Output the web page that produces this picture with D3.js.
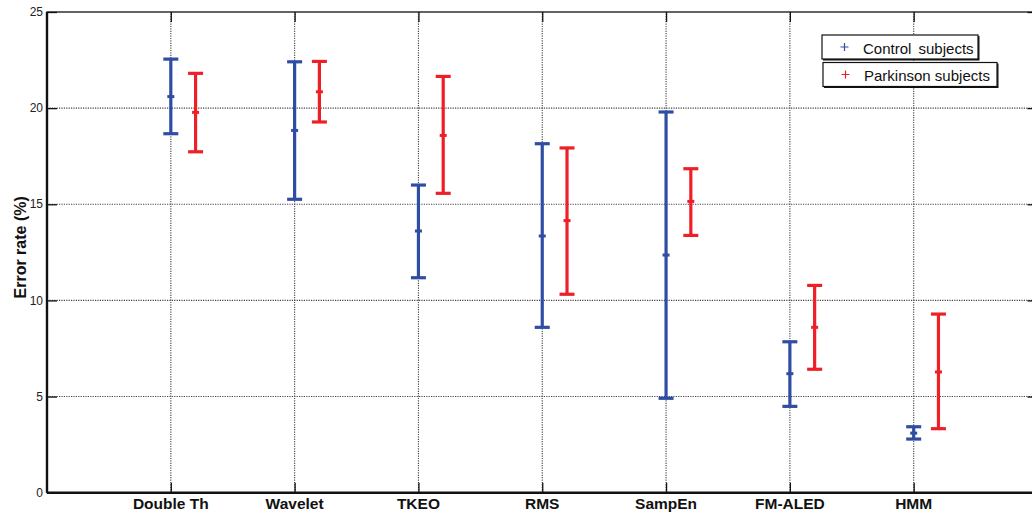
<!DOCTYPE html>
<html><head><meta charset="utf-8">
<script src="https://cdn.jsdelivr.net/npm/d3@7"></script>
<style>body{margin:0;background:#fff}svg{display:block}</style>
</head><body>
<script>
const categories = ["Double Th","Wavelet","TKEO","RMS","SampEn","FM-ALED","HMM"];
const controlMean = [20.6, 18.84, 13.61, 13.35, 12.36, 6.19, 3.1];
const controlLow  = [18.67, 15.26, 11.18, 8.6, 4.91, 4.49, 2.79];
const controlHigh = [22.55, 22.41, 16.0, 18.15, 19.8, 7.85, 3.43];
const parkMean = [19.78, 20.85, 18.58, 14.15, 15.15, 8.6, 6.28];
const parkLow  = [17.73, 19.28, 15.57, 10.32, 13.38, 6.42, 3.33];
const parkHigh = [21.81, 22.43, 21.65, 17.93, 16.85, 10.78, 9.29];
const yTicks = [0, 5, 10, 15, 20, 25];
const seriesNames = ["Control subjects", "Parkinson subjects"];
const seriesColors = ["#2f4da3", "#ee1f27"];

const W = 1032, H = 514;
const svg = d3.select("body").append("svg").attr("width", W).attr("height", H);
const x = d3.scaleLinear().domain([0, 8]).range([47, 1037.5]);
const y = d3.scaleLinear().domain([0, 25]).range([492.7, 12]);
const font = "'Liberation Sans', Arial, sans-serif";

// grid
const g = svg.append("g");
g.selectAll(".hg").data(yTicks.filter(v => v > 0 && v < 25)).join("line")
  .attr("x1", x(0)).attr("x2", x(8)).attr("y1", d => y(d)).attr("y2", d => y(d))
  .attr("stroke", "#444").attr("stroke-width", 1.1).attr("stroke-dasharray", "1.2,1.2");
g.selectAll(".vg").data(categories).join("line")
  .attr("x1", (d, i) => x(i + 1)).attr("x2", (d, i) => x(i + 1))
  .attr("y1", y(0)).attr("y2", y(25))
  .attr("stroke", "#444").attr("stroke-width", 1.1).attr("stroke-dasharray", "1.2,1.2");

// axes
const xAxisB = d3.axisBottom(x).tickValues(categories.map((d, i) => i + 1)).tickSize(-10).tickFormat(() => "");
const xAxisT = d3.axisTop(x).tickValues(categories.map((d, i) => i + 1)).tickSize(-10).tickFormat(() => "");
const yAxisL = d3.axisLeft(y).tickValues(yTicks).tickSize(-10).tickFormat(() => "");
const yAxisR = d3.axisRight(y).tickValues(yTicks).tickSize(-10).tickFormat(() => "");
function styleAxis(sel) {
  sel.select(".domain").remove();
  sel.selectAll(".tick line").attr("stroke", "#111").attr("stroke-width", 1.3);
}
svg.append("g").attr("transform", `translate(0,${y(0)})`).call(xAxisB).call(styleAxis);
svg.append("g").attr("transform", `translate(0,${y(25)})`).call(xAxisT).call(styleAxis);
svg.append("g").attr("transform", `translate(${x(0)},0)`).call(yAxisL).call(styleAxis);
svg.append("g").attr("transform", `translate(${x(8)},0)`).call(yAxisR).call(styleAxis);
// frame
svg.append("rect").attr("x", x(0)).attr("y", y(25)).attr("width", x(8) - x(0)).attr("height", y(0) - y(25))
  .attr("fill", "none").attr("stroke", "#111").attr("stroke-width", 1.3);
svg.append("line").attr("x1", x(0)).attr("x2", x(8)).attr("y1", y(0)).attr("y2", y(0)).attr("stroke", "#111").attr("stroke-width", 2.4);
svg.append("line").attr("x1", x(0)).attr("x2", x(0)).attr("y1", y(0)).attr("y2", y(25)).attr("stroke", "#111").attr("stroke-width", 2.4);

// tick labels
svg.append("g").selectAll("text").data(yTicks).join("text")
  .attr("x", 43).attr("y", d => y(d)).attr("dy", "0.35em").attr("text-anchor", "end")
  .attr("font-family", font).attr("font-size", 12).attr("fill", "#222").text(d => d);
svg.append("g").selectAll("text").data(categories).join("text")
  .attr("x", (d, i) => x(i + 1)).attr("y", 509).attr("text-anchor", "middle")
  .attr("font-family", font).attr("font-size", 15.5).attr("font-weight", "bold").attr("fill", "#111").text(d => d);
svg.append("text").attr("transform", `translate(26,${(y(0) + y(25)) / 2 - 5}) rotate(-90)`)
  .attr("text-anchor", "middle").attr("font-family", font).attr("font-size", 16).attr("font-weight", "bold")
  .attr("fill", "#111").text("Error rate (%)");

// error bars
const series = [
  {mean: controlMean, low: controlLow, high: controlHigh, off: 0, color: seriesColors[0]},
  {mean: parkMean, low: parkLow, high: parkHigh, off: 0.2, color: seriesColors[1]}
];
const capW = 7.5;
series.forEach(s => {
  const gg = svg.append("g");
  const data = categories.map((c, i) => ({cx: x(i + 1 + s.off), m: s.mean[i], lo: s.low[i], hi: s.high[i]}));
  gg.selectAll(".v").data(data).join("line")
    .attr("x1", d => d.cx).attr("x2", d => d.cx).attr("y1", d => y(d.lo)).attr("y2", d => y(d.hi))
    .attr("stroke", s.color).attr("stroke-width", 3.2);
  gg.selectAll(".ct").data(data).join("line")
    .attr("x1", d => d.cx - capW).attr("x2", d => d.cx + capW).attr("y1", d => y(d.hi)).attr("y2", d => y(d.hi))
    .attr("stroke", s.color).attr("stroke-width", 3.2);
  gg.selectAll(".cb").data(data).join("line")
    .attr("x1", d => d.cx - capW).attr("x2", d => d.cx + capW).attr("y1", d => y(d.lo)).attr("y2", d => y(d.lo))
    .attr("stroke", s.color).attr("stroke-width", 3.2);
  gg.selectAll(".m").data(data).join("line")
    .attr("x1", d => d.cx - 3.5).attr("x2", d => d.cx + 3.5).attr("y1", d => y(d.m)).attr("y2", d => y(d.m))
    .attr("stroke", s.color).attr("stroke-width", 3);
});

// legend (two separate boxes)
const legBoxes = [
  {x: 822, y: 35, w: 156, h: 24},
  {x: 823, y: 62.5, w: 174, h: 24}
];
seriesNames.forEach((name, i) => {
  const b = legBoxes[i];
  const lg = svg.append("g");
  lg.append("rect").attr("x", b.x).attr("y", b.y).attr("width", b.w).attr("height", b.h)
    .attr("fill", "#fff").attr("stroke", "#111").attr("stroke-width", 1.2);
  lg.append("path").attr("d", `M${b.x + 1},${b.y + b.h + 0.8}H${b.x + b.w + 0.8}V${b.y + 1}`)
    .attr("fill", "none").attr("stroke", "#111").attr("stroke-width", 1.4);
  const mx = b.x + 22.5, my = b.y + 12;
  lg.append("path").attr("d", `M${mx - 4},${my}H${mx + 4}M${mx},${my - 4}V${my + 4}`)
    .attr("stroke", seriesColors[i]).attr("stroke-width", 1.2);
  lg.append("text").attr("x", b.x + 41).attr("y", b.y + 18.5).attr("font-family", font).attr("font-size", 15)
    .attr("fill", "#111").attr("word-spacing", i === 0 ? "3px" : "0px").text(name);
});
</script>
</body></html>
